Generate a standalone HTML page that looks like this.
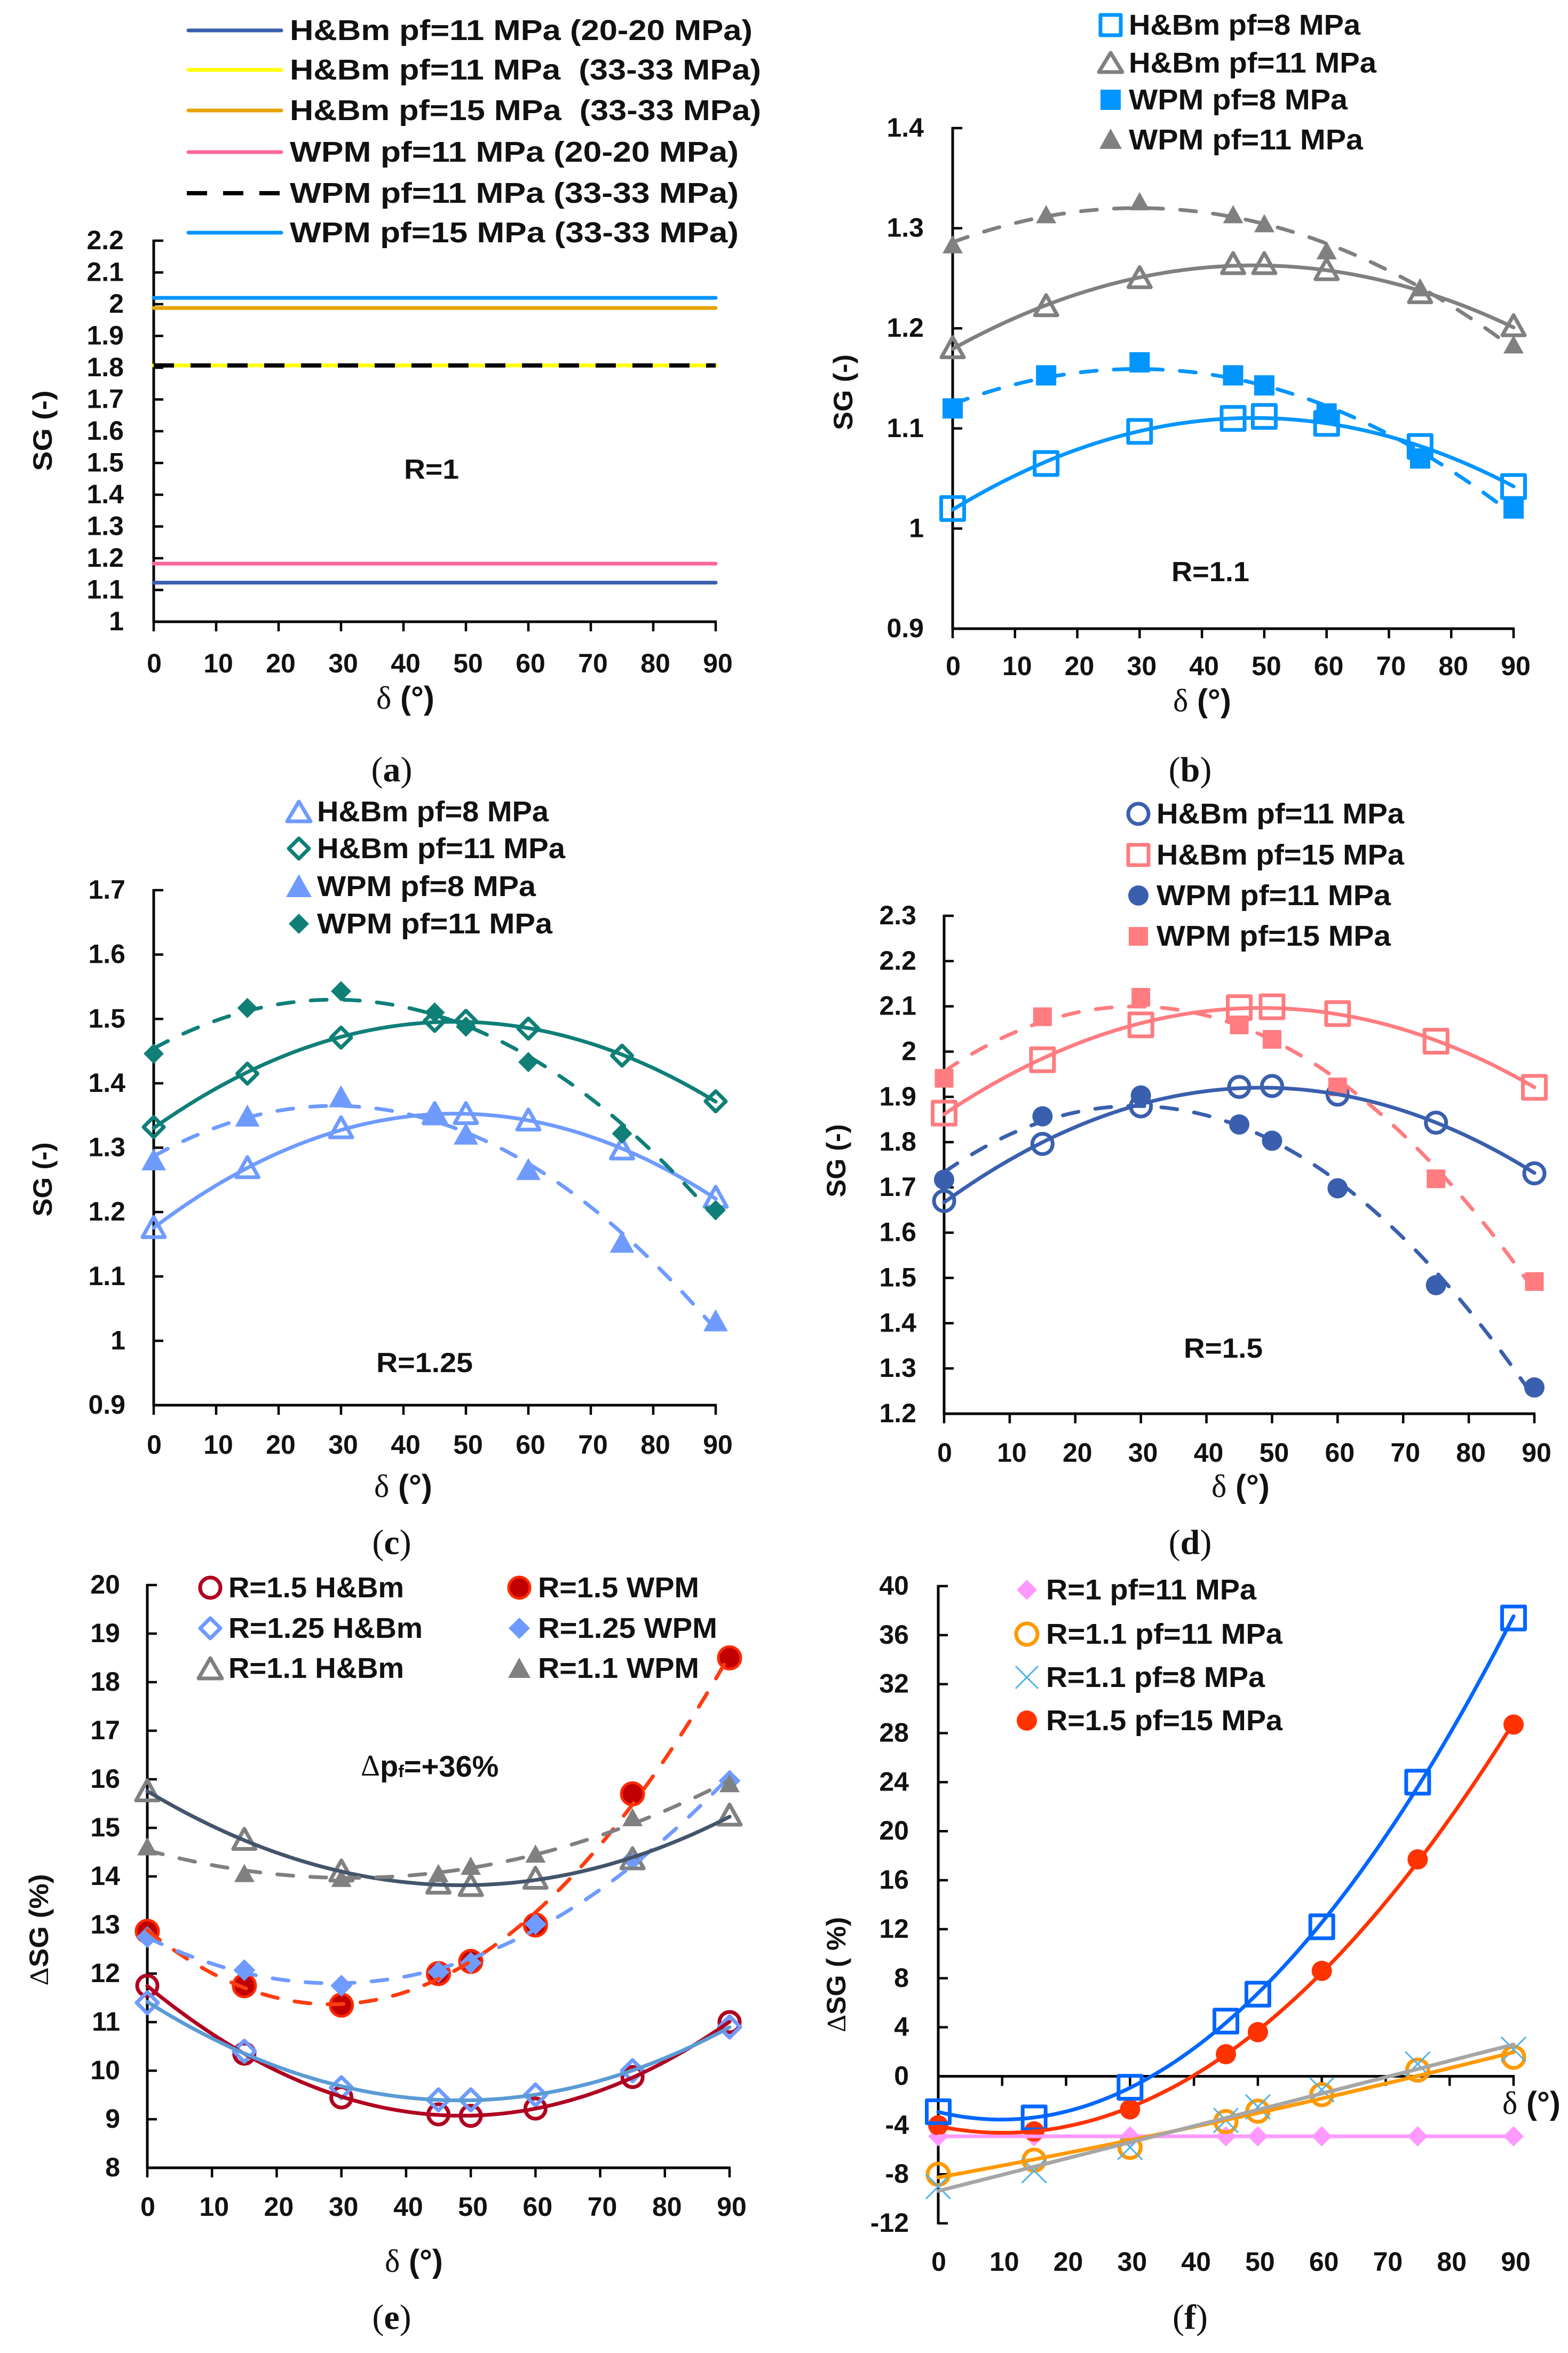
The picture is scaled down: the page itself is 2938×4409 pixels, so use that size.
<!DOCTYPE html>
<html lang="en">
<head>
<meta charset="utf-8">
<title>SG versus delta charts</title>
<style>
html,body{margin:0;padding:0;background:#fff;}
svg{display:block;}
text{font-family:"Liberation Sans",sans-serif;font-weight:bold;fill:#111;white-space:pre;}
.leg{font-size:54px;dominant-baseline:central;}
.tick{font-size:50px;dominant-baseline:central;}
.ann{font-size:52px;dominant-baseline:central;}
.ytitle{font-size:50px;dominant-baseline:central;text-anchor:middle;}
.xtitle{font-size:60px;dominant-baseline:central;}
.delta{font-family:"Liberation Serif",serif;font-weight:normal;}
.cap{font-family:"Liberation Serif",serif;font-size:66px;font-weight:normal;text-anchor:middle;dominant-baseline:central;}
.cap tspan{font-family:"Liberation Serif",serif;font-weight:bold;}
</style>
</head>
<body>
<svg id="figure" xmlns="http://www.w3.org/2000/svg" width="2938" height="4409" viewBox="0 0 2938 4409">
<rect x="0" y="0" width="2938" height="4409" fill="#fff"/>

<!-- Panel a -->
<g id="panel-a"></g>
<g>
  <line x1="353" y1="57" x2="527" y2="57" stroke="#3a5fae" stroke-width="7" stroke-linecap="round"/>
  <text class="leg" x="543" y="57" textLength="867" lengthAdjust="spacingAndGlyphs">H&amp;Bm pf=11 MPa (20-20 MPa)</text>
  <line x1="353" y1="131" x2="527" y2="131" stroke="#ffff00" stroke-width="7" stroke-linecap="round"/>
  <text class="leg" x="543" y="131" textLength="883" lengthAdjust="spacingAndGlyphs">H&amp;Bm pf=11 MPa  (33-33 MPa)</text>
  <line x1="353" y1="207" x2="527" y2="207" stroke="#e6a400" stroke-width="7" stroke-linecap="round"/>
  <text class="leg" x="543" y="207" textLength="883" lengthAdjust="spacingAndGlyphs">H&amp;Bm pf=15 MPa  (33-33 MPa)</text>
  <line x1="353" y1="285" x2="527" y2="285" stroke="#ff6699" stroke-width="7" stroke-linecap="round"/>
  <text class="leg" x="543" y="285" textLength="841" lengthAdjust="spacingAndGlyphs">WPM pf=11 MPa (20-20 MPa)</text>
  <line x1="350" y1="362" x2="527" y2="362" stroke="#000" stroke-width="8" stroke-dasharray="38 30"/>
  <text class="leg" x="543" y="362" textLength="841" lengthAdjust="spacingAndGlyphs">WPM pf=11 MPa (33-33 MPa)</text>
  <line x1="353" y1="436" x2="527" y2="436" stroke="#0095ff" stroke-width="7" stroke-linecap="round"/>
  <text class="leg" x="543" y="436" textLength="841" lengthAdjust="spacingAndGlyphs">WPM pf=15 MPa (33-33 MPa)</text>
</g>
<text class="ann" x="757" y="880" textLength="103" lengthAdjust="spacingAndGlyphs">R=1</text>
<text class="ytitle" transform="translate(80 807) rotate(-90)" textLength="151" lengthAdjust="spacingAndGlyphs">SG (-)</text>
<text class="xtitle" x="705" y="1308"><tspan class="delta">δ</tspan> (°)</text>
<text class="cap" x="734" y="1442">(<tspan>a</tspan>)</text>

<!-- Panel b -->
<g id="panel-b"></g>
<g>
  <rect x="2062" y="28" width="38" height="38" fill="none" stroke="#0095ff" stroke-width="7" stroke-linejoin="round"/>
  <text class="leg" x="2115" y="47" textLength="434" lengthAdjust="spacingAndGlyphs">H&amp;Bm pf=8 MPa</text>
  <polygon points="2081,99 2103,135 2059,135" fill="none" stroke="#808080" stroke-width="7" stroke-linejoin="round"/>
  <text class="leg" x="2115" y="118" textLength="464" lengthAdjust="spacingAndGlyphs">H&amp;Bm pf=11 MPa</text>
  <rect x="2062" y="168" width="38" height="38" fill="#0095ff"/>
  <text class="leg" x="2115" y="187" textLength="410" lengthAdjust="spacingAndGlyphs">WPM pf=8 MPa</text>
  <polygon points="2081,241 2102,279 2060,279" fill="#808080"/>
  <text class="leg" x="2115" y="262" textLength="439" lengthAdjust="spacingAndGlyphs">WPM pf=11 MPa</text>
</g>
<text class="ann" x="2195" y="1072" textLength="146" lengthAdjust="spacingAndGlyphs">R=1.1</text>
<text class="ytitle" transform="translate(1580 735) rotate(-90)" textLength="142" lengthAdjust="spacingAndGlyphs">SG (-)</text>
<text class="xtitle" x="2198" y="1313"><tspan class="delta">δ</tspan> (°)</text>
<text class="cap" x="2230" y="1442">(<tspan>b</tspan>)</text>

<!-- Panel c -->
<g id="panel-c"></g>
<g>
  <polygon points="560,1502 582,1539 538,1539" fill="none" stroke="#6f9bff" stroke-width="7" stroke-linejoin="round"/>
  <text class="leg" x="594" y="1521" textLength="434" lengthAdjust="spacingAndGlyphs">H&amp;Bm pf=8 MPa</text>
  <polygon points="560,1571 579,1590 560,1609 541,1590" fill="none" stroke="#0f7f78" stroke-width="7" stroke-linejoin="round"/>
  <text class="leg" x="594" y="1590" textLength="465" lengthAdjust="spacingAndGlyphs">H&amp;Bm pf=11 MPa</text>
  <polygon points="560,1638 584,1681 536,1681" fill="#6f9bff"/>
  <text class="leg" x="594" y="1661" textLength="410" lengthAdjust="spacingAndGlyphs">WPM pf=8 MPa</text>
  <polygon points="560,1712 579,1731 560,1750 541,1731" fill="#0f7f78"/>
  <text class="leg" x="594" y="1731" textLength="441" lengthAdjust="spacingAndGlyphs">WPM pf=11 MPa</text>
</g>
<text class="ann" x="705" y="2554" textLength="181" lengthAdjust="spacingAndGlyphs">R=1.25</text>
<text class="ytitle" transform="translate(80 2210) rotate(-90)" textLength="139" lengthAdjust="spacingAndGlyphs">SG (-)</text>
<text class="xtitle" x="701" y="2785"><tspan class="delta">δ</tspan> (°)</text>
<text class="cap" x="734" y="2890">(<tspan>c</tspan>)</text>

<!-- Panel d -->
<g id="panel-d"></g>
<g>
  <circle cx="2133" cy="1525" r="19" fill="none" stroke="#3a5fae" stroke-width="7"/>
  <text class="leg" x="2167" y="1525" textLength="464" lengthAdjust="spacingAndGlyphs">H&amp;Bm pf=11 MPa</text>
  <rect x="2114" y="1583" width="38" height="38" fill="none" stroke="#ff7c80" stroke-width="7" stroke-linejoin="round"/>
  <text class="leg" x="2167" y="1602" textLength="464" lengthAdjust="spacingAndGlyphs">H&amp;Bm pf=15 MPa</text>
  <circle cx="2133" cy="1678" r="19" fill="#3a5fae"/>
  <text class="leg" x="2167" y="1678" textLength="439" lengthAdjust="spacingAndGlyphs">WPM pf=11 MPa</text>
  <rect x="2115" y="1737" width="36" height="35" fill="#ff7c80"/>
  <text class="leg" x="2167" y="1754" textLength="439" lengthAdjust="spacingAndGlyphs">WPM pf=15 MPa</text>
</g>
<text class="ann" x="2218" y="2527" textLength="148" lengthAdjust="spacingAndGlyphs">R=1.5</text>
<text class="ytitle" transform="translate(1567 2175) rotate(-90)" textLength="137" lengthAdjust="spacingAndGlyphs">SG (-)</text>
<text class="xtitle" x="2270" y="2785"><tspan class="delta">δ</tspan> (°)</text>
<text class="cap" x="2230" y="2890">(<tspan>d</tspan>)</text>

<!-- Panel e -->
<g id="panel-e"></g>
<g>
  <circle cx="394" cy="2975" r="19" fill="none" stroke="#b00020" stroke-width="7"/>
  <text class="leg" x="428" y="2975" textLength="329" lengthAdjust="spacingAndGlyphs">R=1.5 H&amp;Bm</text>
  <polygon points="394,3032 413,3051 394,3070 375,3051" fill="none" stroke="#6f9bff" stroke-width="7" stroke-linejoin="round"/>
  <text class="leg" x="428" y="3051" textLength="364" lengthAdjust="spacingAndGlyphs">R=1.25 H&amp;Bm</text>
  <polygon points="394,3107 416,3145 372,3145" fill="none" stroke="#808080" stroke-width="7" stroke-linejoin="round"/>
  <text class="leg" x="428" y="3126" textLength="329" lengthAdjust="spacingAndGlyphs">R=1.1 H&amp;Bm</text>
  <circle cx="973" cy="2975" r="20" fill="#c00000" stroke="#ff2a00" stroke-width="5"/>
  <text class="leg" x="1008" y="2975" textLength="302" lengthAdjust="spacingAndGlyphs">R=1.5 WPM</text>
  <polygon points="973,3031 993,3051 973,3071 953,3051" fill="#6f9bff"/>
  <text class="leg" x="1008" y="3051" textLength="336" lengthAdjust="spacingAndGlyphs">R=1.25 WPM</text>
  <polygon points="973,3106 994,3144 952,3144" fill="#808080"/>
  <text class="leg" x="1008" y="3126" textLength="302" lengthAdjust="spacingAndGlyphs">R=1.1 WPM</text>
</g>
<text class="ann" x="676" y="3309" style="font-size:56px"><tspan class="delta">Δ</tspan>p<tspan style="font-size:32px" dy="10">f</tspan><tspan dy="-10">=+36%</tspan></text>
<text class="ytitle" transform="translate(73 3616) rotate(-90)" textLength="209" lengthAdjust="spacingAndGlyphs"><tspan class="delta">Δ</tspan>SG (%)</text>
<text class="xtitle" x="721" y="4237"><tspan class="delta">δ</tspan> (°)</text>
<text class="cap" x="734" y="4342">(<tspan>e</tspan>)</text>

<!-- Panel f -->
<g id="panel-f"></g>
<g>
  <polygon points="1924,2960 1943,2979 1924,2998 1905,2979" fill="#ff99ff"/>
  <text class="leg" x="1960" y="2979" textLength="394" lengthAdjust="spacingAndGlyphs">R=1 pf=11 MPa</text>
  <circle cx="1924" cy="3062" r="20" fill="none" stroke="#ff9900" stroke-width="7"/>
  <text class="leg" x="1960" y="3062" textLength="443" lengthAdjust="spacingAndGlyphs">R=1.1 pf=11 MPa</text>
  <path d="M1903 3122L1945 3164M1945 3122L1903 3164" fill="none" stroke="#4fb3ea" stroke-width="3"/>
  <text class="leg" x="1960" y="3143" textLength="410" lengthAdjust="spacingAndGlyphs">R=1.1 pf=8 MPa</text>
  <circle cx="1924" cy="3224" r="19" fill="#ff3300"/>
  <text class="leg" x="1960" y="3224" textLength="443" lengthAdjust="spacingAndGlyphs">R=1.5 pf=15 MPa</text>
</g>
<text class="ytitle" transform="translate(1567 3700) rotate(-90)" textLength="216" lengthAdjust="spacingAndGlyphs"><tspan class="delta">Δ</tspan>SG ( %)</text>
<text class="xtitle" x="2815" y="3941"><tspan class="delta">δ</tspan> (°)</text>
<text class="cap" x="2230" y="4342">(<tspan>f</tspan>)</text>
</svg>

<script>
// ---- shared categories and tick labels ----
const xTickLabels = ['0','10','20','30','40','50','60','70','80','90'];
const angles = [0,15,30,45,50,60,75,90];
const flatAngles = [0,90];

// ---- panel a ----
const aYTicks = ['1','1.1','1.2','1.3','1.4','1.5','1.6','1.7','1.8','1.9','2','2.1','2.2'];
const aHbm11at20 = [1.123,1.123];
const aHbm11at33 = [1.807,1.807];
const aHbm15at33 = [1.988,1.988];
const aWpm11at20 = [1.183,1.183];
const aWpm11at33 = [1.807,1.807];
const aWpm15at33 = [2.02,2.02];

// ---- panel b ----
const bYTicks = ['0.9','1','1.1','1.2','1.3','1.4'];
const bHbm8 = [1.02,1.065,1.097,1.11,1.112,1.105,1.082,1.042];
const bHbm11 = [1.18,1.222,1.25,1.264,1.264,1.258,1.235,1.202];
const bWpm8 = [1.12,1.153,1.166,1.153,1.143,1.115,1.07,1.02];
const bWpm11 = [1.283,1.313,1.326,1.313,1.304,1.277,1.24,1.183];

// ---- panel c ----
const cYTicks = ['0.9','1','1.1','1.2','1.3','1.4','1.5','1.6','1.7'];
const cHbm8 = [1.175,1.268,1.33,1.352,1.352,1.342,1.297,1.222];
const cHbm11 = [1.332,1.415,1.471,1.497,1.497,1.485,1.443,1.372];
const cWpm8 = [1.28,1.348,1.378,1.35,1.32,1.265,1.152,1.03];
const cWpm11 = [1.446,1.517,1.543,1.51,1.488,1.433,1.322,1.203];

// ---- panel d ----
const dYTicks = ['1.2','1.3','1.4','1.5','1.6','1.7','1.8','1.9','2','2.1','2.2','2.3'];
const dHbm11 = [1.67,1.796,1.879,1.922,1.924,1.905,1.843,1.731];
const dHbm15 = [1.864,1.982,2.059,2.097,2.099,2.084,2.023,1.921];
const dWpm11 = [1.717,1.857,1.903,1.839,1.803,1.698,1.484,1.258];
const dWpm15 = [1.941,2.077,2.12,2.059,2.027,1.922,1.719,1.492];

// ---- panel e ----
const eYTicks = ['8','9','10','11','12','13','14','15','16','17','18','19','20'];
const eR15Hbm = [11.75,10.35,9.45,9.1,9.07,9.22,9.87,11.0];
const eR125Hbm = [11.4,10.4,9.65,9.4,9.4,9.5,10.0,10.9];
const eR11Hbm = [15.75,14.75,14.1,13.85,13.8,13.95,14.35,15.25];
const eR15Wpm = [12.87,11.75,11.35,12.0,12.25,13.0,15.7,18.5];
const eR125Wpm = [12.75,12.07,11.75,12.03,12.22,13.02,14.35,15.97];
const eR11Wpm = [14.6,14.05,13.95,14.05,14.2,14.45,15.2,15.9];

// ---- panel f ----
const fYTicks = ['-12','-8','-4','0','4','8','12','16','20','24','28','32','36','40'];
const fR1p11 = [-4.9,-4.9,-4.9,-4.9,-4.9,-4.9,-4.9,-4.9];
const fR11p11 = [-8,-6.85,-5.8,-3.7,-2.85,-1.5,0.5,1.55];
const fR11p8 = [-9,-7.7,-5.8,-3.6,-2.5,-1.1,1.0,2.2];
const fR15p15 = [-4,-4.5,-2.7,1.8,3.6,8.6,17.7,28.7];
const fR15p11 = [-2.9,-3.4,-0.9,4.5,6.7,12.2,24,37.4];

const SVGNS = 'http://www.w3.org/2000/svg';

function polyfit(xs, ys, deg) {
  const n = deg + 1;
  const A = [];
  for (let i = 0; i < n; i++) {
    A.push(new Array(n + 1).fill(0));
    for (let k = 0; k < xs.length; k++) {
      for (let j = 0; j < n; j++) A[i][j] += Math.pow(xs[k], i + j);
      A[i][n] += ys[k] * Math.pow(xs[k], i);
    }
  }
  for (let i = 0; i < n; i++) {
    let p = i;
    for (let r = i + 1; r < n; r++) if (Math.abs(A[r][i]) > Math.abs(A[p][i])) p = r;
    const t = A[i]; A[i] = A[p]; A[p] = t;
    for (let r = 0; r < n; r++) {
      if (r === i) continue;
      const f = A[r][i] / A[i][i];
      for (let c = i; c <= n; c++) A[r][c] -= f * A[i][c];
    }
  }
  const coef = [];
  for (let i = 0; i < n; i++) coef.push(A[i][n] / A[i][i]);
  return coef;
}

function drawPanel(cfg) {
  const g = document.getElementById(cfg.id);
  const xAt = v => cfg.left + (v - 0) / 90 * (cfg.right - cfg.left);
  const yTickVals = cfg.yTicks.map(Number);
  const yMin = Math.min.apply(null, yTickVals);
  const yMax = Math.max.apply(null, yTickVals);
  const yAt = v => cfg.bottom - (v - yMin) / (yMax - yMin) * (cfg.bottom - cfg.top);
  const xAxisY = cfg.xAxisAtZero ? yAt(0) : cfg.bottom;

  const yAxis = document.createElementNS(SVGNS, 'line');
  
  
  yAxis.setAttribute('x1', cfg.left); yAxis.setAttribute('x2', cfg.left);
  yAxis.setAttribute('y1', cfg.top - 2); yAxis.setAttribute('y2', cfg.bottom + 2);
  yAxis.setAttribute('stroke', '#000'); yAxis.setAttribute('stroke-width', 5);
  g.appendChild(yAxis);

  const xAxis = document.createElementNS(SVGNS, 'line');
  
  
  xAxis.setAttribute('x1', cfg.left); xAxis.setAttribute('x2', cfg.right + 2);
  xAxis.setAttribute('y1', xAxisY); xAxis.setAttribute('y2', xAxisY);
  xAxis.setAttribute('stroke', '#000'); xAxis.setAttribute('stroke-width', 5);
  g.appendChild(xAxis);

  cfg.yTicks.forEach(function (lab) {
    const v = Number(lab);
    const tk = document.createElementNS(SVGNS, 'line');
    
    
    tk.setAttribute('x1', cfg.left); tk.setAttribute('x2', cfg.left + 18);
    tk.setAttribute('y1', yAt(v)); tk.setAttribute('y2', yAt(v));
    tk.setAttribute('stroke', '#000'); tk.setAttribute('stroke-width', 4.5);
    g.appendChild(tk);
    const t = document.createElementNS(SVGNS, 'text');
    
    
    t.setAttribute('class', 'tick');
    t.setAttribute('x', cfg.yLabelX);
    t.setAttribute('y', yAt(v) - 1);
    t.setAttribute('text-anchor', 'end');
    t.textContent = lab;
    g.appendChild(t);
  });

  xTickLabels.forEach(function (lab) {
    const v = Number(lab);
    const tk = document.createElementNS(SVGNS, 'line');
    
    
    tk.setAttribute('x1', xAt(v)); tk.setAttribute('x2', xAt(v));
    tk.setAttribute('y1', xAxisY); tk.setAttribute('y2', xAxisY + 18);
    tk.setAttribute('stroke', '#000'); tk.setAttribute('stroke-width', 4.5);
    g.appendChild(tk);
    const t = document.createElementNS(SVGNS, 'text');
    
    
    t.setAttribute('class', 'tick');
    t.setAttribute('x', xAt(v) + (v === 0 ? 1 : 4));
    t.setAttribute('y', cfg.xLabelY);
    t.setAttribute('text-anchor', 'middle');
    t.textContent = lab;
    g.appendChild(t);
  });

  cfg.series.forEach(function (s) {
    const xs = s.xs || angles;
    if (s.marker) {
      xs.forEach(function (xv, i) { drawMarker(g, s, xAt(xv), yAt(s.ys[i])); });
    }
  });
  cfg.series.forEach(function (s) {
    const xs = s.xs || angles;
    const p = document.createElementNS(SVGNS, 'path');
    
    
    let d = '';
    if (s.fit) {
      const c = polyfit(xs, s.ys, s.fit);
      for (let a = 0; a <= 90; a += 1) {
        let val = 0;
        for (let k = 0; k < c.length; k++) val += c[k] * Math.pow(a, k);
        d += (a ? 'L' : 'M') + xAt(a).toFixed(1) + ' ' + yAt(val).toFixed(1);
      }
    } else {
      xs.forEach(function (xv, i) {
        d += (i ? 'L' : 'M') + xAt(xv).toFixed(1) + ' ' + yAt(s.ys[i]).toFixed(1);
      });
    }
    p.setAttribute('d', d);
    p.setAttribute('fill', 'none');
    p.setAttribute('stroke', s.line);
    p.setAttribute('stroke-width', s.lw || 7);
    p.setAttribute('stroke-linecap', s.cap || 'round');
    if (s.dash) p.setAttribute('stroke-dasharray', s.dash);
    g.appendChild(p);
  });
}

function drawMarker(g, s, cx, cy) {
  const r = s.size / 2;
  let el;
  if (s.marker === 'square') {
    el = document.createElementNS(SVGNS, 'rect');
    el.setAttribute('x', cx - r); el.setAttribute('y', cy - r);
    el.setAttribute('width', s.size); el.setAttribute('height', s.size);
  } else if (s.marker === 'circle') {
    el = document.createElementNS(SVGNS, 'circle');
    el.setAttribute('cx', cx); el.setAttribute('cy', cy); el.setAttribute('r', r);
  } else if (s.marker === 'triangle') {
    el = document.createElementNS(SVGNS, 'polygon');
    el.setAttribute('points', cx + ',' + (cy - r) + ' ' + (cx + r) + ',' + (cy + r * 0.8) + ' ' + (cx - r) + ',' + (cy + r * 0.8));
  } else if (s.marker === 'diamond') {
    el = document.createElementNS(SVGNS, 'polygon');
    el.setAttribute('points', cx + ',' + (cy - r) + ' ' + (cx + r) + ',' + cy + ' ' + cx + ',' + (cy + r) + ' ' + (cx - r) + ',' + cy);
  } else {
    el = document.createElementNS(SVGNS, 'path');
    el.setAttribute('d', 'M' + (cx - r) + ' ' + (cy - r) + 'L' + (cx + r) + ' ' + (cy + r) + 'M' + (cx + r) + ' ' + (cy - r) + 'L' + (cx - r) + ' ' + (cy + r));
  }
  
  
  el.setAttribute('fill', s.fill || 'none');
  if (s.stroke) {
    el.setAttribute('stroke', s.stroke);
    el.setAttribute('stroke-width', s.sw || 7);
    el.setAttribute('stroke-linejoin', 'round');
  }
  g.appendChild(el);
}

const BLUE = '#0095ff', GRAY = '#808080', LBLUE = '#6f9bff', TEAL = '#0f7f78', NAVY = '#3a5fae', PINK = '#ff7c80';
const DASH = '30 32';

drawPanel({id:'panel-a', left:288, right:1341, top:451, bottom:1165, yLabelX:232, xLabelY:1243, yTicks:aYTicks, series:[
  {name:'hbm-11-20', xs:flatAngles, ys:aHbm11at20, line:NAVY},
  {name:'hbm-11-33', xs:flatAngles, ys:aHbm11at33, line:'#ffff00'},
  {name:'hbm-15-33', xs:flatAngles, ys:aHbm15at33, line:'#e6a400'},
  {name:'wpm-11-20', xs:flatAngles, ys:aWpm11at20, line:'#ff6699'},
  {name:'wpm-11-33', xs:flatAngles, ys:aWpm11at33, line:'#000', lw:8, dash:'38 31', cap:'butt'},
  {name:'wpm-15-33', xs:flatAngles, ys:aWpm15at33, line:BLUE}
]});

drawPanel({id:'panel-b', left:1785, right:2836, top:240, bottom:1178, yLabelX:1731, xLabelY:1248, yTicks:bYTicks, series:[
  {name:'hbm-8', ys:bHbm8, marker:'square', size:43, stroke:BLUE, line:BLUE, fit:2},
  {name:'hbm-11', ys:bHbm11, marker:'triangle', size:42, stroke:GRAY, line:GRAY, fit:2},
  {name:'wpm-8', ys:bWpm8, marker:'square', size:38, fill:BLUE, line:BLUE, dash:DASH, fit:2},
  {name:'wpm-11', ys:bWpm11, marker:'triangle', size:38, fill:GRAY, line:GRAY, dash:DASH, fit:2}
]});

drawPanel({id:'panel-c', left:288, right:1341, top:1668, bottom:2633, yLabelX:235, xLabelY:2707, yTicks:cYTicks, series:[
  {name:'hbm-8', ys:cHbm8, marker:'triangle', size:42, stroke:LBLUE, line:LBLUE, fit:2},
  {name:'hbm-11', ys:cHbm11, marker:'diamond', size:38, stroke:TEAL, line:TEAL, fit:2},
  {name:'wpm-8', ys:cWpm8, marker:'triangle', size:46, fill:LBLUE, line:LBLUE, dash:DASH, fit:2},
  {name:'wpm-11', ys:cWpm11, marker:'diamond', size:38, fill:TEAL, line:TEAL, dash:DASH, fit:2}
]});

drawPanel({id:'panel-d', left:1769, right:2875, top:1716, bottom:2649, yLabelX:1717, xLabelY:2722, yTicks:dYTicks, series:[
  {name:'hbm-11', ys:dHbm11, marker:'circle', size:38, stroke:NAVY, line:NAVY, fit:2},
  {name:'hbm-15', ys:dHbm15, marker:'square', size:43, stroke:PINK, line:PINK, fit:2},
  {name:'wpm-11', ys:dWpm11, marker:'circle', size:38, fill:NAVY, line:NAVY, dash:DASH, fit:2},
  {name:'wpm-15', ys:dWpm15, marker:'square', size:35, fill:PINK, line:PINK, dash:DASH, fit:2}
]});

drawPanel({id:'panel-e', left:276, right:1367, top:2970, bottom:4062, yLabelX:225, xLabelY:4135, yTicks:eYTicks, series:[
  {name:'r15-hbm', ys:eR15Hbm, marker:'circle', size:38, stroke:'#b00020', line:'#b00020', fit:2},
  {name:'r15-wpm', ys:eR15Wpm, marker:'circle', size:42, fill:'#c00000', stroke:'#ff2a00', sw:5, line:'#ff3c0f', dash:DASH, fit:2},
  {name:'r125-hbm', ys:eR125Hbm, marker:'diamond', size:40, stroke:LBLUE, line:'#5b9bd5', fit:2},
  {name:'r125-wpm', ys:eR125Wpm, marker:'diamond', size:41, fill:LBLUE, line:LBLUE, dash:DASH, fit:2},
  {name:'r11-hbm', ys:eR11Hbm, marker:'triangle', size:42, stroke:GRAY, line:'#44546a', fit:2},
  {name:'r11-wpm', ys:eR11Wpm, marker:'triangle', size:38, fill:GRAY, line:GRAY, dash:DASH, fit:2}
]});

drawPanel({id:'panel-f', left:1758, right:2836, top:2972, bottom:4166, yLabelX:1703, xLabelY:4238, xAxisAtZero:true, yTicks:fYTicks, series:[
  {name:'r1-11', ys:fR1p11, marker:'diamond', size:38, fill:'#ff99ff', line:'#ff99ff', fit:1},
  {name:'r15-15', ys:fR15p15, marker:'circle', size:38, fill:'#ff3300', line:'#ff3300', fit:2},
  {name:'r15-11', ys:fR15p11, marker:'square', size:43, stroke:'#0066ff', line:'#0066ff', fit:2},
  {name:'r11-11', ys:fR11p11, marker:'circle', size:40, stroke:'#ff9900', line:'#ff9900', fit:2},
  {name:'r11-8', ys:fR11p8, marker:'x', size:46, stroke:'#4fb3ea', sw:3, line:'#a6a6a6', fit:2}
]});
</script>
</body>
</html>
